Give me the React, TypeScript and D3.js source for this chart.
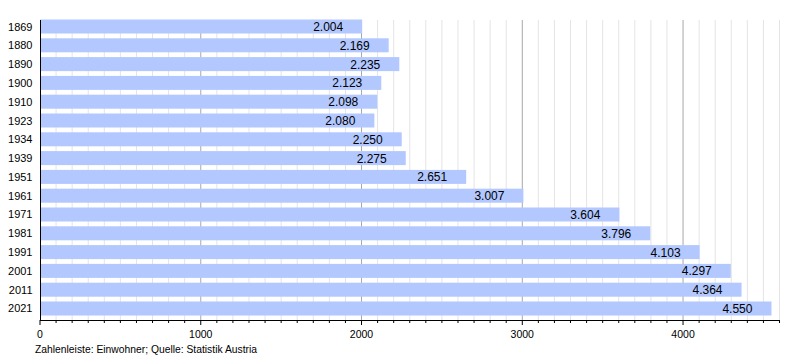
import React from "react";
import * as d3 from "d3";

const years = ["1869","1880","1890","1900","1910","1923","1934","1939","1951","1961","1971","1981","1991","2001","2011","2021"];
const population = [2004,2169,2235,2123,2098,2080,2250,2275,2651,3007,3604,3796,4103,4297,4364,4550];
const majorTicks = [0,1000,2000,3000,4000];
const caption = "Zahlenleiste: Einwohner; Quelle: Statistik Austria";

const W = 800, H = 360;
const FONT = "'Liberation Sans', Arial, Helvetica, sans-serif";

export default function App() {
  const x = d3.scaleLinear().domain([0, 4600]).range([40, 779.5]);
  const y = d3.scaleBand<string>().domain(years).range([19.5, 315.5]).paddingInner(0.255).paddingOuter(0);
  const top = 20, bottom = 320;
  const minor = d3.range(0, 4601, 100);
  const fmt = (v: number) => d3.format(",")(v).replace(/,/g, ".");
  return (
    <svg width={W} height={H} style={{ position: "absolute", left: 0, top: 0 }} fontFamily={FONT}>
      <rect x={0} y={0} width={W} height={H} fill="#ffffff" />
      {minor.filter(v => v % 1000 !== 0).map(v => (
        <line key={"g" + v} x1={x(v)} x2={x(v)} y1={top} y2={bottom} stroke="#e4e4e4" strokeWidth={1} />
      ))}
      {majorTicks.filter(v => v > 0).map(v => (
        <line key={"G" + v} x1={x(v)} x2={x(v)} y1={top} y2={bottom} stroke="#a8a8a8" strokeWidth={1} />
      ))}
      {years.map((yr, i) => (
        <g key={yr}>
          <rect x={x(0)} y={y(yr)!} width={x(population[i]) - x(0)} height={y.bandwidth()} fill="#b2c8ff" />
          <text x={x(population[i]) - 19} y={y(yr)! + y.bandwidth() / 2 + 4.5} textAnchor="end" fontSize={12} fill="#000">
            {fmt(population[i])}
          </text>
          <text x={32.5} y={y(yr)! + y.bandwidth() / 2 + 4} textAnchor="end" fontSize={11} fill="#000">
            {yr}
          </text>
        </g>
      ))}
      <line x1={40.5} x2={40.5} y1={top} y2={bottom} stroke="#000" strokeWidth={1} />
      <line x1={40} x2={x(4600)} y1={bottom + 0.5} y2={bottom + 0.5} stroke="#000" strokeWidth={1} />
      {minor.map(v => (
        <line key={"t" + v} x1={x(v)} x2={x(v)} y1={bottom} y2={bottom + (v % 1000 === 0 ? 5 : 3)} stroke="#000" strokeWidth={1} />
      ))}
      {majorTicks.map(v => (
        <text key={"l" + v} x={x(v)} y={338} textAnchor="middle" fontSize={10.5} fill="#000">{v}</text>
      ))}
      <text x={35} y={352.5} fontSize={11.5} textLength={222} lengthAdjust="spacingAndGlyphs" fill="#000">{caption}</text>
    </svg>
  );
}
